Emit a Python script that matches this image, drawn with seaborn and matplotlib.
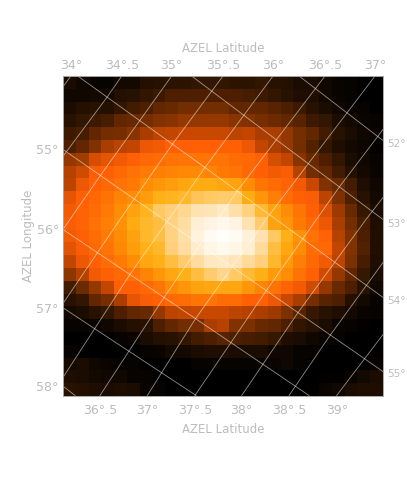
import matplotlib
matplotlib.use("Agg")
import matplotlib.pyplot as plt
from matplotlib.colors import LinearSegmentedColormap
import numpy as np
import seaborn as sns

# ----------------------------
# Data (relative intensity per cell)
# ----------------------------
intensity = [
    [8, 5, 2, 2, 6, 6, 11, 12, 13, 13, 15, 15, 15, 13, 13, 15, 12, 11, 8, 8, 5, 3, 2, 0, 0],
    [5, 5, 6, 6, 11, 12, 15, 17, 20, 20, 20, 20, 20, 20, 19, 17, 15, 12, 9, 9, 5, 3, 2, 0, 0],
    [8, 11, 12, 11, 15, 18, 20, 24, 25, 27, 27, 27, 27, 24, 24, 24, 22, 20, 17, 12, 8, 5, 3, 2, 0],
    [12, 15, 17, 19, 24, 25, 28, 30, 31, 33, 33, 33, 33, 31, 30, 28, 26, 24, 22, 17, 15, 8, 6, 3, 2],
    [17, 19, 24, 27, 28, 31, 36, 39, 40, 41, 41, 41, 41, 39, 40, 36, 36, 33, 27, 24, 18, 12, 8, 5, 3],
    [20, 24, 30, 36, 39, 40, 47, 48, 50, 50, 50, 50, 50, 50, 47, 40, 36, 33, 27, 21, 15, 9, 6, 4, 1],
    [33, 35, 43, 46, 48, 50, 52, 53, 54, 55, 55, 55, 55, 53, 52, 50, 43, 40, 31, 25, 20, 15, 8, 5, 2],
    [38, 42, 49, 50, 52, 54, 56, 57, 58, 59, 59, 58, 56, 55, 52, 50, 48, 49, 38, 27, 24, 18, 11, 6, 3],
    [39, 47, 50, 52, 54, 56, 60, 62, 64, 66, 67, 67, 66, 65, 60, 55, 53, 51, 48, 41, 30, 25, 18, 9, 5],
    [46, 50, 52, 54, 58, 60, 64, 68, 69, 70, 74, 75, 76, 75, 67, 62, 57, 53, 50, 49, 39, 29, 20, 12, 6],
    [48, 51, 53, 56, 60, 65, 69, 75, 77, 80, 84, 85, 87, 83, 78, 71, 65, 60, 55, 50, 44, 34, 25, 16, 8],
    [49, 51, 54, 57, 61, 67, 70, 72, 78, 82, 90, 93, 95, 93, 84, 76, 65, 62, 56, 52, 47, 36, 27, 19, 9],
    [48, 50, 53, 56, 60, 65, 70, 72, 78, 83, 92, 97, 99, 97, 91, 84, 75, 68, 61, 54, 51, 38, 30, 20, 10],
    [45, 49, 52, 55, 59, 64, 68, 70, 77, 82, 88, 94, 96, 94, 89, 81, 72, 66, 60, 53, 52, 40, 30, 21, 10],
    [40, 47, 50, 53, 56, 60, 66, 68, 72, 76, 82, 86, 87, 85, 81, 77, 70, 63, 57, 52, 48, 39, 29, 19, 9],
    [32, 38, 48, 50, 52, 54, 58, 62, 66, 68, 72, 76, 79, 75, 71, 68, 63, 60, 54, 50, 42, 33, 24, 16, 8],
    [18, 26, 33, 40, 50, 50, 52, 55, 59, 62, 65, 66, 66, 66, 62, 58, 54, 51, 48, 42, 33, 25, 20, 12, 5],
    [12, 15, 24, 28, 36, 46, 49, 50, 52, 53, 55, 55, 53, 53, 50, 50, 47, 41, 36, 28, 22, 20, 11, 6, 2],
    [6, 8, 12, 15, 20, 24, 25, 33, 39, 40, 41, 41, 41, 39, 38, 36, 34, 29, 23, 16, 12, 9, 6, 3, 2],
    [2, 2, 3, 5, 8, 11, 12, 20, 24, 27, 28, 36, 38, 30, 29, 25, 24, 20, 15, 12, 8, 3, 2, 1, 0],
    [0, 0, 0, 0, 2, 3, 8, 11, 12, 15, 18, 20, 22, 20, 19, 18, 16, 9, 8, 5, 3, 2, 0, 0, 0],
    [2, 1, 0, 0, 0, 0, 2, 3, 6, 6, 8, 9, 9, 8, 8, 8, 5, 5, 2, 2, 0, 0, 0, 0, 1],
    [6, 8, 5, 3, 2, 2, 0, 0, 0, 0, 2, 2, 2, 2, 2, 3, 3, 5, 2, 0, 0, 0, 0, 1, 2],
    [9, 8, 6, 5, 5, 2, 2, 0, 0, 0, 0, 0, 0, 0, 0, 0, 0, 0, 0, 0, 1, 1, 3, 6, 8],
    [12, 11, 9, 8, 9, 8, 3, 2, 0, 0, 0, 0, 0, 0, 0, 0, 0, 0, 0, 1, 3, 5, 8, 9, 9],
]

heat_stops = [0, 0.15, 0.3, 0.4, 0.5, 0.6, 0.68, 0.78, 0.88, 1]
heat_colors = ["#000000", "#321600", "#823200", "#c34600", "#ff5f05",
               "#ff8c05", "#ffaf14", "#ffd282", "#ffeccc", "#ffffff"]

top_labels = ["34°", "34°.5", "35°", "35°.5", "36°", "36°.5", "37°"]
top_pos = [0.62, 4.59, 8.49, 12.5, 16.41, 20.47, 24.38]
bottom_labels = ["36°.5", "37°", "37°.5", "38°", "38°.5", "39°"]
bottom_pos = [2.89, 6.59, 10.31, 13.96, 17.66, 21.38]
left_labels = ["55°", "56°", "57°", "58°"]
left_pos = [5.74, 11.99, 18.11, 24.23]
right_labels = ["52°", "53°", "54°", "55°"]
right_pos = [5.27, 11.5, 17.5, 23.2]

# graticule curves, (column, row) in cell units
descending = [
    [(18.44, 0), (25, 5.04)],
    [(10.05, 0), (16.64, 4.96), (25, 11.21)],
    [(1.15, 0), (11.09, 7.15), (25, 17.3)],
    [(0, 5.74), (5.63, 9.65), (25, 23.09)],
    [(0, 11.99), (10.45, 19.02), (19.22, 24.96)],
    [(0, 18.11), (10.4, 24.96)],
    [(0, 24.23), (0.94, 24.96)],
]
ascending = [
    [(0, 0.84), (0.62, 0)],
    [(0, 6.27), (3.41, 1.7), (4.59, 0)],
    [(0, 11.99), (2.97, 7.7), (6.02, 3.45), (8.49, 0)],
    [(0, 17.77), (4.45, 11.21), (8.59, 5.27), (12.5, 0)],
    [(0, 23.55), (5.23, 15.5), (11.09, 7.15), (16.41, 0)],
    [(2.89, 24.96), (7.89, 17.3), (13.59, 9.02), (20.47, 0)],
    [(6.59, 24.96), (10.31, 19.02), (16.02, 10.98), (24.38, 0)],
    [(10.31, 24.96), (15.94, 16.68), (21.56, 8.71), (25, 4.18)],
    [(13.96, 24.96), (18.36, 18.48), (23.67, 11.21), (25, 9.49)],
    [(17.66, 24.96), (20.86, 20.27), (25, 14.57)],
    [(21.38, 24.96), (25, 20.2)],
]

TEXT_GRAY = "#bcbcbc"
FRAME_GRAY = "#a8a8a8"

fig = plt.figure(figsize=(4.07, 4.92), dpi=100)
ax = fig.add_axes([63 / 407, (492 - 396) / 492, 320 / 407, 320 / 492])

cmap = LinearSegmentedColormap.from_list("heat", list(zip(heat_stops, heat_colors)))
sns.heatmap(np.array(intensity), ax=ax, cmap=cmap, vmin=0, vmax=100, cbar=False,
            square=False, xticklabels=False, yticklabels=False)

for curve in descending + ascending:
    xs, ys = zip(*curve)
    ax.plot(xs, ys, color="white", lw=0.6, alpha=0.55)

for spine in ax.spines.values():
    spine.set_visible(True)
    spine.set_color(FRAME_GRAY)
    spine.set_linewidth(0.7)

ax.set_xticks(bottom_pos, bottom_labels)
ax.set_yticks(left_pos, left_labels)
ax.tick_params(length=0, labelsize=9, colors=TEXT_GRAY, labelrotation=0)
ax.tick_params(axis="x", pad=6)
ax.tick_params(axis="y", pad=3)
ax.set_xlabel("AZEL Latitude", fontsize=8.5, color=TEXT_GRAY, labelpad=4)
ax.set_ylabel("AZEL Longitude", fontsize=8.5, color=TEXT_GRAY, labelpad=1)

top = ax.secondary_xaxis("top")
top.set_xticks(top_pos, top_labels)
top.tick_params(length=0, pad=3, labelsize=9, colors=TEXT_GRAY)
top.set_xlabel("AZEL Latitude", fontsize=8.5, color=TEXT_GRAY, labelpad=5)
top.spines["top"].set_visible(False)

right = ax.secondary_yaxis("right")
right.set_yticks(right_pos, right_labels)
right.tick_params(length=0, pad=3, labelsize=7.5, colors=TEXT_GRAY)
right.spines["right"].set_visible(False)

fig.savefig("out.png", dpi=100)
plt.close(fig)
